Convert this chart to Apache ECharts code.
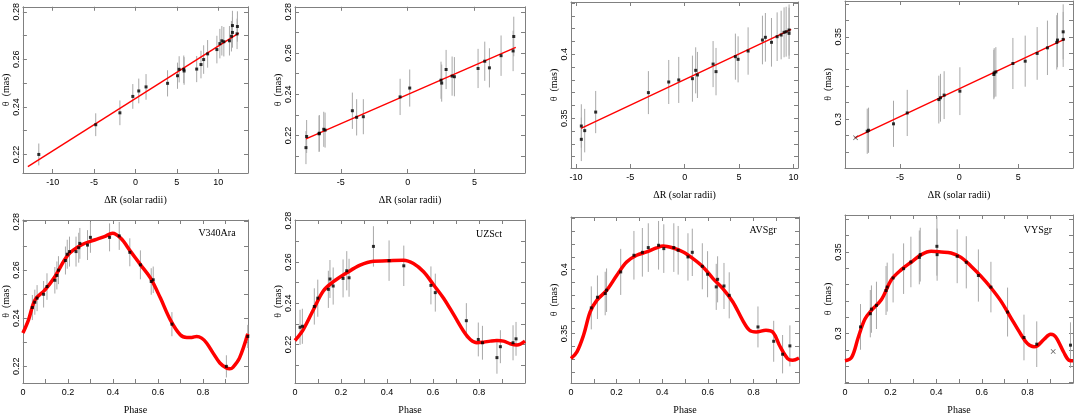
<!DOCTYPE html>
<html>
<head>
<meta charset="utf-8">
<script src="https://cdn.jsdelivr.net/npm/echarts@6.0.0/dist/echarts.min.js"></script>
<style>
  html, body { margin: 0; padding: 0; background: #fff; }
  #chart { width: 1075px; height: 416px; }
</style>
</head>
<body>
<div id="chart"></div>
<script>
// ---- V340 Ara ----
var v340AraDR = [-11.68, -4.80, -1.88, -0.32, 0.40, 1.28, 3.88, 5.08, 5.28, 5.84, 5.88, 7.40, 7.92, 8.24, 8.72, 9.84, 10.20, 10.44, 10.68, 11.36, 11.60, 11.72, 11.72, 12.28, 12.32];
var v340AraThetaR = [0.2200, 0.2325, 0.2375, 0.2444, 0.2467, 0.2484, 0.2499, 0.2531, 0.2558, 0.2558, 0.2551, 0.2559, 0.2578, 0.2599, 0.2623, 0.2641, 0.2666, 0.2678, 0.2674, 0.2678, 0.2697, 0.2713, 0.2742, 0.2707, 0.2738];
var v340AraErrR = [0.0046, 0.0048, 0.0052, 0.0052, 0.0052, 0.0054, 0.0055, 0.0055, 0.0055, 0.0058, 0.0058, 0.0055, 0.0058, 0.0060, 0.0058, 0.0058, 0.0062, 0.0062, 0.0062, 0.0062, 0.0064, 0.0064, 0.0062, 0.0064, 0.0064];
var v340AraFitX = [-13.0, 12.48];
var v340AraFitY = [0.2149, 0.2710];
var v340AraPhase = [0.042, 0.053, 0.063, 0.092, 0.107, 0.142, 0.151, 0.158, 0.189, 0.197, 0.207, 0.236, 0.248, 0.253, 0.287, 0.300, 0.385, 0.428, 0.475, 0.522, 0.570, 0.579, 0.662, 0.904, 0.999];
var v340AraThetaP = [0.2444, 0.2466, 0.2483, 0.2499, 0.2531, 0.2557, 0.2577, 0.2599, 0.2639, 0.2665, 0.2676, 0.2676, 0.2692, 0.2710, 0.2703, 0.2735, 0.2735, 0.2741, 0.2673, 0.2621, 0.2552, 0.2559, 0.2375, 0.2200, 0.2324];
var v340AraErrP = [0.0052, 0.0052, 0.0054, 0.0055, 0.0055, 0.0055, 0.0058, 0.0058, 0.0058, 0.0060, 0.0062, 0.0062, 0.0062, 0.0064, 0.0062, 0.0064, 0.0058, 0.0058, 0.0058, 0.0060, 0.0055, 0.0055, 0.0050, 0.0046, 0.0048];
var v340AraCurveX = [0, 0.025, 0.054, 0.098, 0.142, 0.2007, 0.259, 0.318, 0.362, 0.3985, 0.435, 0.479, 0.523, 0.567, 0.611, 0.655, 0.699, 0.728, 0.750, 0.772, 0.794, 0.816, 0.845, 0.875, 0.904, 0.919, 0.933, 0.962, 0.999];
var v340AraCurveY = [0.2338, 0.2393, 0.2476, 0.2517, 0.2572, 0.2662, 0.2703, 0.2724, 0.2738, 0.2752, 0.2731, 0.2676, 0.2621, 0.2566, 0.2483, 0.2393, 0.2331, 0.2320, 0.2320, 0.2324, 0.2317, 0.2297, 0.2255, 0.2214, 0.2193, 0.2190, 0.2196, 0.2234, 0.2335];

// ---- UZ Sct ----
var uzSctDR = [-7.61, -7.56, -6.63, -6.61, -6.28, -6.18, -4.14, -3.82, -3.32, -0.57, 0.15, 2.49, 2.54, 2.87, 3.32, 3.49, 5.26, 5.76, 6.11, 6.98, 7.88, 7.93];
var uzSctThetaR = [0.2141, 0.2195, 0.2208, 0.2211, 0.2230, 0.2226, 0.2320, 0.2288, 0.2291, 0.2387, 0.2430, 0.2468, 0.2454, 0.2520, 0.2488, 0.2485, 0.2525, 0.2560, 0.2528, 0.2587, 0.2610, 0.2680];
var uzSctErrR = [0.0080, 0.0080, 0.0088, 0.0088, 0.0085, 0.0085, 0.0088, 0.0088, 0.0085, 0.0088, 0.0090, 0.0090, 0.0090, 0.0095, 0.0095, 0.0095, 0.0095, 0.0095, 0.0095, 0.0098, 0.0098, 0.0096];
var uzSctFitX = [-7.61, 8.08];
var uzSctFitY = [0.2184, 0.2627];
var uzSctPhase = [0.022, 0.032, 0.084, 0.099, 0.145, 0.152, 0.166, 0.209, 0.225, 0.235, 0.341, 0.409, 0.473, 0.591, 0.610, 0.745, 0.797, 0.815, 0.878, 0.893, 0.948, 0.961];
var uzSctThetaP = [0.2283, 0.2288, 0.2384, 0.2424, 0.2467, 0.2517, 0.2483, 0.2520, 0.2557, 0.2523, 0.2675, 0.2606, 0.2581, 0.2486, 0.2451, 0.2315, 0.2224, 0.2208, 0.2136, 0.2189, 0.2208, 0.2227];
var uzSctErrP = [0.0085, 0.0085, 0.0088, 0.0090, 0.0090, 0.0092, 0.0090, 0.0092, 0.0095, 0.0092, 0.0098, 0.0098, 0.0098, 0.0092, 0.0092, 0.0085, 0.0082, 0.0082, 0.0078, 0.0080, 0.0085, 0.0082];
var uzSctCurveX = [0, 0.036, 0.080, 0.123, 0.167, 0.225, 0.283, 0.341, 0.399, 0.472, 0.515, 0.559, 0.603, 0.646, 0.690, 0.733, 0.762, 0.791, 0.820, 0.849, 0.878, 0.907, 0.936, 0.965, 1.0];
var uzSctCurveY = [0.2219, 0.2272, 0.2368, 0.2459, 0.2504, 0.2547, 0.2584, 0.2603, 0.2605, 0.2608, 0.2592, 0.2552, 0.2488, 0.2424, 0.2344, 0.2264, 0.2224, 0.2208, 0.2211, 0.2216, 0.2219, 0.2216, 0.2203, 0.2197, 0.2216];

// ---- AV Sgr ----
var avSgrDR = [-9.51, -9.51, -9.20, -8.19, -3.34, -1.47, -0.55, 0.71, 1.01, 1.17, 2.61, 2.88, 4.66, 4.91, 5.83, 7.15, 7.42, 7.98, 8.50, 8.87, 9.14, 9.33, 9.60, 9.60];
var avSgrThetaR = [0.3440, 0.3336, 0.3404, 0.3549, 0.3701, 0.3784, 0.3800, 0.3810, 0.3875, 0.3839, 0.3924, 0.3865, 0.3982, 0.3961, 0.4026, 0.4112, 0.4133, 0.4094, 0.4138, 0.4151, 0.4172, 0.4177, 0.4190, 0.4164];
var avSgrErrR = [0.0170, 0.0170, 0.0170, 0.0165, 0.0168, 0.0172, 0.0180, 0.0180, 0.0180, 0.0180, 0.0180, 0.0185, 0.0180, 0.0180, 0.0185, 0.0190, 0.0190, 0.0190, 0.0190, 0.0190, 0.0195, 0.0195, 0.0200, 0.0200];
var avSgrFitX = [-9.54, 9.79];
var avSgrFitY = [0.3422, 0.4195];
var avSgrPhase = [0.089, 0.116, 0.150, 0.156, 0.218, 0.276, 0.313, 0.339, 0.384, 0.407, 0.451, 0.470, 0.513, 0.532, 0.576, 0.599, 0.637, 0.643, 0.671, 0.694, 0.820, 0.889, 0.928, 0.960];
var avSgrThetaP = [0.3701, 0.3784, 0.3813, 0.3839, 0.3982, 0.4112, 0.4135, 0.4172, 0.4190, 0.4164, 0.4172, 0.4151, 0.4099, 0.4135, 0.4026, 0.3964, 0.3865, 0.3924, 0.3872, 0.3799, 0.3552, 0.3440, 0.3339, 0.3404];
var avSgrErrP = [0.0168, 0.0170, 0.0170, 0.0170, 0.0180, 0.0190, 0.0190, 0.0190, 0.0190, 0.0190, 0.0190, 0.0190, 0.0185, 0.0185, 0.0180, 0.0180, 0.0180, 0.0180, 0.0180, 0.0180, 0.0160, 0.0160, 0.0150, 0.0160];
var avSgrCurveX = [0, 0.026, 0.055, 0.084, 0.113, 0.157, 0.201, 0.244, 0.288, 0.332, 0.375, 0.404, 0.448, 0.492, 0.535, 0.579, 0.623, 0.666, 0.710, 0.753, 0.783, 0.812, 0.855, 0.887, 0.914, 0.950, 0.972, 1.0];
var avSgrCurveY = [0.3305, 0.3357, 0.3487, 0.3669, 0.3760, 0.3839, 0.3956, 0.4060, 0.4112, 0.4138, 0.4169, 0.4185, 0.4169, 0.4138, 0.4086, 0.4021, 0.3930, 0.3852, 0.3747, 0.3604, 0.3526, 0.3513, 0.3526, 0.3508, 0.3409, 0.3305, 0.3292, 0.3310];

// ---- VY Sgr ----
var vySgrDR = [-7.77, -7.66, -5.55, -4.39, -1.72, -1.58, -1.27, 0.06, 2.93, 2.96, 3.10, 4.54, 5.58, 6.59, 7.46, 8.25, 8.31, 8.79, 8.79];
var vySgrThetaR = [0.2927, 0.2933, 0.2972, 0.3038, 0.3119, 0.3130, 0.3146, 0.3170, 0.3271, 0.3281, 0.3287, 0.3338, 0.3352, 0.3399, 0.3433, 0.3466, 0.3480, 0.3484, 0.3530];
var vySgrErrR = [0.0137, 0.0137, 0.0140, 0.0140, 0.0145, 0.0145, 0.0145, 0.0145, 0.0150, 0.0150, 0.0150, 0.0155, 0.0155, 0.0160, 0.0165, 0.0165, 0.0165, 0.0167, 0.0167];
var vySgrCrossR = [[-8.76, 0.2887]];
var vySgrFitX = [-8.82, 8.93];
var vySgrFitY = [0.2887, 0.3486];
var vySgrPhase = [0.068, 0.111, 0.116, 0.138, 0.180, 0.185, 0.211, 0.257, 0.289, 0.326, 0.330, 0.403, 0.404, 0.492, 0.532, 0.585, 0.640, 0.713, 0.785, 0.841, 0.989];
var vySgrThetaP = [0.3041, 0.3122, 0.3150, 0.3173, 0.3264, 0.3285, 0.3341, 0.3398, 0.3439, 0.3467, 0.3484, 0.3535, 0.3484, 0.3474, 0.3437, 0.3356, 0.3285, 0.3132, 0.2976, 0.2935, 0.2929];
var vySgrErrP = [0.0140, 0.0145, 0.0145, 0.0145, 0.0150, 0.0150, 0.0150, 0.0155, 0.0155, 0.0165, 0.0165, 0.0180, 0.0160, 0.0165, 0.0160, 0.0160, 0.0155, 0.0150, 0.0140, 0.0140, 0.0140];
var vySgrCrossP = [[0.913, 0.2890]];
var vySgrCurveX = [0, 0.029, 0.058, 0.087, 0.116, 0.160, 0.204, 0.247, 0.291, 0.335, 0.378, 0.422, 0.465, 0.509, 0.553, 0.596, 0.640, 0.684, 0.727, 0.771, 0.800, 0.829, 0.844, 0.873, 0.902, 0.916, 0.931, 0.960, 0.982, 1.0];
var vySgrCurveY = [0.2833, 0.2854, 0.2976, 0.3088, 0.3142, 0.3209, 0.3331, 0.3392, 0.3439, 0.3484, 0.3504, 0.3500, 0.3494, 0.3467, 0.3413, 0.3352, 0.3281, 0.3199, 0.3098, 0.2996, 0.2939, 0.2919, 0.2925, 0.2965, 0.2996, 0.2990, 0.2965, 0.2884, 0.2837, 0.2833];

// ---- ticks ----
var dRTicksWide = [-10, -5, 0, 5, 10];
var dRTicksNarrow = [-5, 0, 5];
var phaseTicks = [0.1, 0.2, 0.3, 0.4, 0.5, 0.6, 0.7, 0.8, 0.9];
var phaseLabels = [0, 0.2, 0.4, 0.6, 0.8];
var thetaTicksA = [0.22, 0.23, 0.24, 0.25, 0.26, 0.27, 0.28];
var thetaTicksB = [0.21, 0.22, 0.23, 0.24, 0.25, 0.26, 0.27, 0.28];
var thetaLabelsAB = [0.22, 0.24, 0.26, 0.28];
var thetaTicksC = [0.32, 0.33, 0.34, 0.35, 0.36, 0.37, 0.38, 0.39, 0.40, 0.41, 0.42, 0.43, 0.44];
var thetaLabelsC = [0.35, 0.4];
var thetaTicksD = [0.27, 0.28, 0.29, 0.30, 0.31, 0.32, 0.33, 0.34, 0.35, 0.36, 0.37];
var thetaLabelsD = [0.3, 0.35];

var starNames = ['V340Ara', 'UZSct', 'AVSgr', 'VYSgr'];

function zip(a, b, c) {
  return a.map(function(v, i) { return c ? [v, b[i], c[i]] : [v, b[i]]; });
}

// panel layout: [left, top, width, height], axis ranges
var panels = [
  { box: [21, 5, 227, 168], x: [-13.6, 13.6], y: [0.2122, 0.2821], xt: dRTicksWide, xl: dRTicksWide, yt: thetaTicksA, yl: thetaLabelsAB,
    pts: zip(v340AraDR, v340AraThetaR, v340AraErrR), line: zip(v340AraFitX, v340AraFitY), thick: false, xname: 'ΔR (solar radii)' },
  { box: [295, 5, 230, 168], x: [-8.43, 8.77], y: [0.2018, 0.2824], xt: dRTicksNarrow, xl: dRTicksNarrow, yt: thetaTicksB, yl: thetaLabelsAB,
    pts: zip(uzSctDR, uzSctThetaR, uzSctErrR), line: zip(uzSctFitX, uzSctFitY), thick: false, xname: 'ΔR (solar radii)' },
  { box: [571, 2, 227, 166], x: [-10.46, 10.42], y: [0.3112, 0.4409], xt: dRTicksWide, xl: dRTicksWide, yt: thetaTicksC, yl: thetaLabelsC,
    pts: zip(avSgrDR, avSgrThetaR, avSgrErrR), line: zip(avSgrFitX, avSgrFitY), thick: false, xname: 'ΔR (solar radii)' },
  { box: [845, 1, 228, 167], x: [-9.65, 9.62], y: [0.2704, 0.3717], xt: dRTicksNarrow, xl: dRTicksNarrow, yt: thetaTicksD, yl: thetaLabelsD,
    pts: zip(vySgrDR, vySgrThetaR, vySgrErrR), line: zip(vySgrFitX, vySgrFitY), cross: vySgrCrossR, thick: false, xname: 'ΔR (solar radii)' },
  { box: [21, 220, 227, 163], x: [0, 1], y: [0.2131, 0.2807], xt: phaseTicks, xl: phaseLabels, yt: thetaTicksA, yl: thetaLabelsAB,
    pts: zip(v340AraPhase, v340AraThetaP, v340AraErrP), line: zip(v340AraCurveX, v340AraCurveY), thick: true, xname: 'Phase', star: starNames[0] },
  { box: [295, 220, 230, 164], x: [0, 1], y: [0.2013, 0.2803], xt: phaseTicks, xl: phaseLabels, yt: thetaTicksB, yl: thetaLabelsAB,
    pts: zip(uzSctPhase, uzSctThetaP, uzSctErrP), line: zip(uzSctCurveX, uzSctCurveY), thick: true, xname: 'Phase', star: starNames[1] },
  { box: [571, 217, 228, 166], x: [0, 1], y: [0.3114, 0.4411], xt: phaseTicks, xl: phaseLabels, yt: thetaTicksC, yl: thetaLabelsC,
    pts: zip(avSgrPhase, avSgrThetaP, avSgrErrP), line: zip(avSgrCurveX, avSgrCurveY), thick: true, xname: 'Phase', star: starNames[2] },
  { box: [845, 215, 228, 169], x: [0, 1], y: [0.2697, 0.3727], xt: phaseTicks, xl: phaseLabels, yt: thetaTicksD, yl: thetaLabelsD,
    pts: zip(vySgrPhase, vySgrThetaP, vySgrErrP), line: zip(vySgrCurveX, vySgrCurveY), cross: vySgrCrossP, thick: true, xname: 'Phase', star: starNames[3] }
];

var FRAME = '#808080';
var TICK_FONT = 'Liberation Sans';
var NAME_FONT = 'Liberation Serif';
var CROSS = 'path://M0,1L1,0L5,4L9,0L10,1L6,5L10,9L9,10L5,6L1,10L0,9L4,5Z';

var grids = [], xAxes = [], yAxes = [], series = [], graphics = [];

panels.forEach(function(p, i) {
  grids.push({ left: p.box[0], top: p.box[1], width: p.box[2], height: p.box[3], containLabel: false });

  var lineCfg = { show: true, onZero: false, lineStyle: { color: FRAME, width: 1 } };
  var tickCfg = function(vals) {
    return { show: true, inside: true, length: 4, customValues: vals, lineStyle: { color: FRAME, width: 1 } };
  };

  xAxes.push({
    type: 'value', gridIndex: i, position: 'bottom', min: p.x[0], max: p.x[1],
    axisLine: lineCfg, axisTick: tickCfg(p.xt), splitLine: { show: false },
    axisLabel: { customValues: p.xl, margin: 5, fontSize: 9, color: '#000', fontFamily: TICK_FONT },
    name: p.xname, nameLocation: 'middle', nameGap: 22,
    nameTextStyle: { fontSize: 10, color: '#000', fontFamily: NAME_FONT }
  });
  xAxes.push({
    type: 'value', gridIndex: i, position: 'top', min: p.x[0], max: p.x[1],
    axisLine: lineCfg, axisTick: tickCfg(p.xt), splitLine: { show: false }, axisLabel: { show: false }
  });
  yAxes.push({
    type: 'value', gridIndex: i, position: 'left', min: p.y[0], max: p.y[1],
    axisLine: lineCfg, axisTick: tickCfg(p.yt), splitLine: { show: false },
    axisLabel: { customValues: p.yl, rotate: 90, margin: 2, fontSize: 9, color: '#000', fontFamily: TICK_FONT },
    name: 'θ  (mas)', nameLocation: 'middle', nameGap: 10,
    nameTextStyle: { fontSize: 10, color: '#000', fontFamily: NAME_FONT }
  });
  yAxes.push({
    type: 'value', gridIndex: i, position: 'right', min: p.y[0], max: p.y[1],
    axisLine: lineCfg, axisTick: tickCfg(p.yt), splitLine: { show: false }, axisLabel: { show: false }
  });

  var ax = 2 * i;
  series.push({
    type: 'custom', xAxisIndex: ax, yAxisIndex: ax, z: 2, clip: true, silent: true,
    encode: { x: 0, y: 1 },
    renderItem: function(params, api) {
      var x = api.value(0), y = api.value(1), e = api.value(2);
      var lo = api.coord([x, y - e]), hi = api.coord([x, y + e]);
      return { type: 'line', shape: { x1: lo[0], y1: lo[1], x2: hi[0], y2: hi[1] },
        style: { stroke: '#a8a8a8', lineWidth: 1 } };
    },
    data: p.pts
  });
  series.push({
    type: 'line', xAxisIndex: ax, yAxisIndex: ax, z: 3, silent: true,
    data: p.line, showSymbol: false, smooth: p.thick ? 0.35 : false,
    lineStyle: { color: '#ff0000', width: p.thick ? 3.5 : 1.4 }
  });
  series.push({
    type: 'scatter', xAxisIndex: ax, yAxisIndex: ax, z: 4, silent: true,
    data: p.pts.map(function(d) { return [d[0], d[1]]; }),
    symbol: 'rect', symbolSize: 3, itemStyle: { color: '#000' }
  });
  if (p.cross) {
    series.push({
      type: 'scatter', xAxisIndex: ax, yAxisIndex: ax, z: 4, silent: true,
      data: p.cross, symbol: CROSS, symbolSize: 5, itemStyle: { color: '#333' }
    });
  }
});

var starPos = [[217, 233], [489, 234], [763, 230], [1038, 230]];
panels.forEach(function(p, i) {
  if (!p.star) return;
  var pos = starPos[i - 4];
  graphics.push({
    type: 'text', x: pos[0], y: pos[1], z: 10,
    style: { text: p.star, fill: '#000', font: '10px "Liberation Serif"', textAlign: 'center', textVerticalAlign: 'middle' }
  });
});

var chart = echarts.init(document.getElementById('chart'), null, { renderer: 'canvas' });
chart.setOption({
  animation: false,
  backgroundColor: '#fff',
  grid: grids,
  xAxis: xAxes,
  yAxis: yAxes,
  series: series,
  graphic: graphics
});
</script>
</body>
</html>
